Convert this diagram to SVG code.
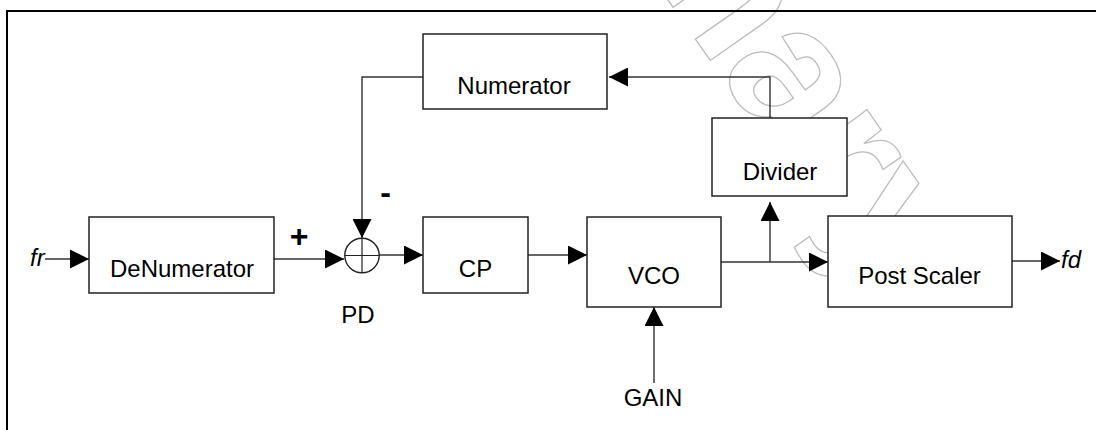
<svg xmlns="http://www.w3.org/2000/svg" width="1096" height="430" viewBox="0 0 1096 430">
<style>
.box{fill:#fff;stroke:#222;stroke-width:1.5}
.lbl{font-family:"Liberation Sans",Arial,sans-serif;font-size:24px;fill:#000;text-anchor:middle}
.it{font-family:"Liberation Sans",Arial,sans-serif;font-size:24px;font-style:italic;fill:#000}
.sgn{font-family:"Liberation Sans",Arial,sans-serif;font-size:32px;font-weight:bold;fill:#000;text-anchor:middle}
.wire{fill:none;stroke:#333;stroke-width:1.4}
.wm{font-family:"Liberation Sans",Arial,sans-serif;font-size:190px;font-weight:bold;fill:none;stroke:#bdbdbd;stroke-width:1.3}
</style>
<defs>
<marker id="arr" markerUnits="userSpaceOnUse" markerWidth="19" markerHeight="19" refX="19" refY="9.5" orient="auto">
<path d="M0,0 L19,9.5 L0,19 z" fill="#000"/>
</marker>
</defs>
<rect width="1096" height="430" fill="#fff"/>
<g id="watermark">
<text class="wm" transform="translate(287,-544) rotate(55)" x="0" y="0">Preliminary</text>
</g>
<g id="connectors">
<path class="wire" d="M45,259 H89" marker-end="url(#arr)"/>
<path class="wire" d="M274,259 H344" marker-end="url(#arr)"/>
<path class="wire" d="M423,77 H362 V238" marker-end="url(#arr)"/>
<path class="wire" d="M379,255 H423" marker-end="url(#arr)"/>
<path class="wire" d="M528,255 H587" marker-end="url(#arr)"/>
<path class="wire" d="M721,262 H828" marker-end="url(#arr)"/>
<path class="wire" d="M770,262 V202" marker-end="url(#arr)"/>
<path class="wire" d="M770,118 V77 H609" marker-end="url(#arr)"/>
<path class="wire" d="M1012,261 H1060" marker-end="url(#arr)"/>
<path class="wire" d="M654,383 V307" marker-end="url(#arr)"/>
</g>
<g id="denumerator">
<rect class="box" x="89" y="217" width="185" height="76"/>
<text class="lbl" x="182" y="277">DeNumerator</text>
</g>
<g id="pd">
<circle cx="362" cy="255.5" r="17.2" fill="none" stroke="#222" stroke-width="1.4"/>
<path d="M344.8,255.5 H379.2 M362,238.3 V272.7" stroke="#222" stroke-width="1.2" fill="none"/>
<text class="lbl" x="358" y="323">PD</text>
</g>
<g id="numerator">
<rect class="box" x="423" y="34" width="184" height="75"/>
<text class="lbl" x="514" y="94">Numerator</text>
</g>
<g id="cp">
<rect class="box" x="423" y="217" width="105" height="76"/>
<text class="lbl" x="475.5" y="277">CP</text>
</g>
<g id="vco">
<rect class="box" x="587" y="217" width="134" height="90"/>
<text class="lbl" x="654" y="284">VCO</text>
</g>
<g id="divider">
<rect class="box" x="712" y="118" width="135" height="78"/>
<text class="lbl" x="780" y="180">Divider</text>
</g>
<g id="postscaler">
<rect class="box" x="828" y="216" width="184" height="91"/>
<text class="lbl" x="919.5" y="284">Post Scaler</text>
</g>
<g id="labels">
<text class="it" x="30" y="266">fr</text>
<text class="it" x="1061" y="268">fd</text>
<text class="lbl" x="653" y="406">GAIN</text>
<text class="sgn" x="299" y="247">+</text>
<text class="sgn" x="385.5" y="203">-</text>
</g>
<path id="frame" d="M7,430 V11 H1096" fill="none" stroke="#000" stroke-width="2"/>
</svg>
